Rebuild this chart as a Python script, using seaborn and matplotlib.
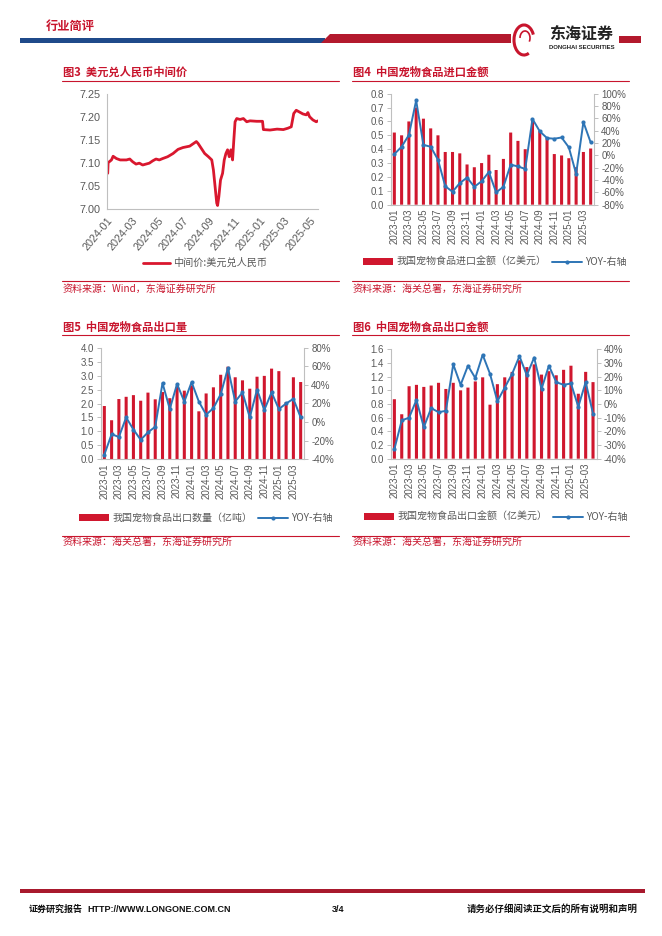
import numpy as np
import pandas as pd
import matplotlib
matplotlib.use("Agg")
import matplotlib.pyplot as plt
import seaborn as sns
from matplotlib.patches import Rectangle, Polygon, Patch, Arc
from matplotlib.lines import Line2D
import matplotlib.dates as mdates
from matplotlib.ticker import FuncFormatter

# ---------------- data ----------------
fx_dates = ["2024-01-02", "2024-01-03", "2024-01-11", "2024-01-15", "2024-01-23", "2024-02-01",
            "2024-02-16", "2024-02-24", "2024-03-02", "2024-03-10", "2024-03-18", "2024-03-26",
            "2024-04-11", "2024-04-19", "2024-04-27", "2024-05-05", "2024-05-13", "2024-05-25",
            "2024-06-07", "2024-06-19", "2024-07-01", "2024-07-17", "2024-07-25", "2024-08-02",
            "2024-08-06", "2024-08-14", "2024-08-22", "2024-08-31", "2024-09-08", "2024-09-12",
            "2024-09-16", "2024-09-20", "2024-09-22", "2024-09-25", "2024-09-29", "2024-10-04",
            "2024-10-08", "2024-10-12", "2024-10-16", "2024-10-20", "2024-10-24", "2024-10-28",
            "2024-10-31", "2024-11-03", "2024-11-07", "2024-11-15", "2024-11-23", "2024-12-01",
            "2024-12-09", "2024-12-25", "2025-01-08", "2025-01-10", "2025-01-26", "2025-02-12",
            "2025-02-27", "2025-03-10", "2025-03-18", "2025-03-24", "2025-03-30", "2025-04-07",
            "2025-04-15", "2025-04-23", "2025-04-27", "2025-05-01", "2025-05-09", "2025-05-17",
            "2025-05-21"]
fx_values = [7.077, 7.100, 7.106, 7.114, 7.109, 7.106, 7.106, 7.108, 7.102, 7.097, 7.099, 7.095,
             7.099, 7.104, 7.108, 7.106, 7.109, 7.113, 7.120, 7.129, 7.133, 7.136, 7.141, 7.146,
             7.142, 7.131, 7.120, 7.113, 7.106, 7.084, 7.048, 7.012, 7.007, 7.026, 7.062, 7.077,
             7.106, 7.120, 7.128, 7.113, 7.128, 7.106, 7.149, 7.189, 7.196, 7.194, 7.196, 7.189,
             7.191, 7.190, 7.190, 7.172, 7.171, 7.173, 7.172, 7.175, 7.178, 7.207, 7.214, 7.210,
             7.206, 7.204, 7.209, 7.200, 7.193, 7.189, 7.191]

months = ["2023-01", "2023-02", "2023-03", "2023-04", "2023-05", "2023-06", "2023-07", "2023-08",
          "2023-09", "2023-10", "2023-11", "2023-12", "2024-01", "2024-02", "2024-03", "2024-04",
          "2024-05", "2024-06", "2024-07", "2024-08", "2024-09", "2024-10", "2024-11", "2024-12",
          "2025-01", "2025-02", "2025-03", "2025-04"]
month_tick_labels = months[::2]

import_value = [0.52, 0.50, 0.60, 0.70, 0.62, 0.55, 0.50, 0.38, 0.38, 0.37, 0.29, 0.27,
                0.30, 0.36, 0.25, 0.33, 0.52, 0.46, 0.40, 0.61, 0.53, 0.48, 0.365, 0.355,
                0.335, 0.27, 0.38, 0.405]
import_yoy = [2, 14, 33, 89, 17, 14, -7, -50, -59, -45, -36, -51,
              -42, -27, -60, -51, -15, -18, -22, 59, 39, 28, 27, 29,
              13, -30, 54, 21]

export_volume = [1.91, 1.40, 2.16, 2.24, 2.30, 2.10, 2.39, 2.15, 2.41, 2.19, 2.60, 2.46,
                 2.65, 1.72, 2.36, 2.58, 3.03, 3.32, 2.94, 2.83, 2.53, 2.96, 2.99, 3.25,
                 3.16, 2.05, 2.94, 2.77]
export_volume_yoy = [-35, -13, -16, 5, -8, -19, -11, -5, 42, 14, 41, 22,
                     43, 22, 8, 15, 30, 58, 22, 32, 5, 35, 13, 32,
                     14, 20, 25, 5]

export_value = [0.87, 0.65, 1.06, 1.08, 1.05, 1.07, 1.11, 1.02, 1.11, 1.00, 1.04, 1.13,
                1.19, 0.79, 1.09, 1.19, 1.27, 1.44, 1.34, 1.38, 1.23, 1.28, 1.22, 1.30,
                1.36, 0.95, 1.27, 1.12]
export_value_yoy = [-33, -12, -10, 3, -17, -3, -6, -5, 29, 14, 28, 19,
                    36, 22, 2, 12, 22, 35, 21, 34, 11, 28, 16, 14,
                    15, -2, 16, -7]

# ---------------- style ----------------
sns.set_theme(style="white")
plt.rcParams['font.family'] = ['Liberation Sans', 'Noto Sans CJK SC', 'DejaVu Sans']
plt.rcParams['axes.unicode_minus'] = False

W, H = 662, 936
RED = "#C8152D"
BAR = "#D0172E"
LINE = "#2E75B6"
SPINE = "#BFBFBF"
TXT = "#595959"
CJK = ['Noto Sans CJK SC', 'DejaVu Sans']

fig = plt.figure(figsize=(W / 100, H / 100), dpi=100)
fig.patch.set_facecolor("white")

ov = fig.add_axes([0, 0, 1, 1])
ov.set_xlim(0, W)
ov.set_ylim(H, 0)
ov.axis('off')


def rect(l, t, r, b):
    return [l / W, 1 - b / H, (r - l) / W, (b - t) / H]


def style_axes(ax, size=6.8):
    for s in ['top', 'right']:
        ax.spines[s].set_visible(False)
    for s in ['left', 'bottom']:
        ax.spines[s].set_color(SPINE)
        ax.spines[s].set_linewidth(0.8)
    ax.tick_params(axis='both', which='both', color=SPINE, labelcolor=TXT,
                   labelsize=size, length=3, width=0.7, direction='out', pad=2)
    ax.set_xlabel('')
    ax.set_ylabel('')


# ---------------- header ----------------
ov.text(46, 26, "行业简评", color=RED, fontsize=8.8, fontweight='bold',
        family=CJK, va='center', ha='left')
ov.add_patch(Rectangle((20, 38), 305, 5, color="#1F4A8A", lw=0))
ov.add_patch(Polygon([(321, 43), (330, 34), (511, 34), (511, 43)], closed=True,
                     color="#B3192D", lw=0))
ov.add_patch(Rectangle((619, 36), 22, 7, color="#B3192D", lw=0))
ov.add_patch(Arc((524, 40), 20, 30, theta1=70, theta2=330, color="#C8152D", lw=2.2))
ov.add_patch(Arc((525, 38), 10, 14, theta1=180, theta2=40, color="#C8152D", lw=1.2))
ov.text(581, 34, "东海证券", color="#222222", fontsize=11.5, fontweight='bold',
        family=CJK, va='center', ha='center')
ov.text(582, 47.5, "DONGHAI SECURITIES", color="#222222", fontsize=4.3,
        fontweight='bold', va='center', ha='center')

# ---------------- footer ----------------
ov.add_patch(Rectangle((20, 889), 625, 4, color="#A8192D", lw=0))
ov.text(29, 909, "证券研究报告", fontsize=6.5, fontweight='bold', family=CJK,
        va='center', ha='left', color="#111111")
ov.text(87, 909, "HTTP://WWW.LONGONE.COM.CN", fontsize=6.5, fontweight='bold',
        va='center', ha='left', color="#111111")
ov.text(332, 909, "3/4", fontsize=6.5, fontweight='bold', va='center', ha='left',
        color="#111111")
ov.text(638, 909, "请务必仔细阅读正文后的所有说明和声明", fontsize=6.8, fontweight='bold',
        family=CJK, va='center', ha='right', color="#111111")


# ---------------- panel frames ----------------
def frame(x0, x1, title, title_y, line_top, line_bot, src, src_y):
    ov.text(x0, title_y, title, color=RED, fontsize=8.1, fontweight='bold',
            family=CJK, va='center', ha='left')
    ov.plot([x0 - 1, x1], [line_top, line_top], color=RED, lw=0.8)
    ov.plot([x0 - 1, x1], [line_bot, line_bot], color=RED, lw=0.8)
    ov.text(x0, src_y, src, color=RED, fontsize=7.2, family=CJK, va='center', ha='left')


frame(63, 339, "图3  美元兑人民币中间价", 72, 81, 281, "资料来源：Wind，东海证券研究所", 289)
frame(353, 629, "图4  中国宠物食品进口金额", 72, 81, 281, "资料来源：海关总署，东海证券研究所", 289)
frame(63, 339, "图5  中国宠物食品出口量", 327, 335, 536, "资料来源：海关总署，东海证券研究所", 542)
frame(353, 629, "图6  中国宠物食品出口金额", 327, 335, 536, "资料来源：海关总署，东海证券研究所", 542)

# ---------------- chart 3: FX line ----------------
ax3 = fig.add_axes(rect(107.3, 93.7, 318.3, 208.7))
fx_df = pd.DataFrame({"date": pd.to_datetime(fx_dates), "value": fx_values})
sns.lineplot(data=fx_df, x="date", y="value", ax=ax3, color="#D9172E", lw=2.0)
ax3.set_xlim(pd.Timestamp("2024-01-01"), pd.Timestamp("2025-05-22"))
ax3.set_ylim(7.00, 7.25)
ax3.set_yticks([7.00, 7.05, 7.10, 7.15, 7.20, 7.25])
ax3.yaxis.set_major_formatter(FuncFormatter(lambda v, p: f"{v:.2f}"))
ax3.xaxis.set_major_locator(mdates.MonthLocator(bymonth=[1, 3, 5, 7, 9, 11]))
ax3.xaxis.set_major_formatter(mdates.DateFormatter("%Y-%m"))
style_axes(ax3, size=7.8)
for lab in ax3.get_xticklabels():
    lab.set_rotation(50)
    lab.set_ha('right')
    lab.set_va('top')
    lab.set_rotation_mode('anchor')
ax3.legend(handles=[Line2D([0], [0], color="#D9172E", lw=2.0)],
           labels=["中间价:美元兑人民币"], loc='center', bbox_to_anchor=(205, 263),
           bbox_transform=ov.transData, frameon=False, handlelength=2.6,
           handletextpad=0.3, prop={'family': CJK, 'size': 7.3}, labelcolor=TXT)


# ---------------- bar + yoy charts ----------------
def bar_chart(r, vals, yoy, ylim, yticks, yfmt, y2lim, y2ticks, bar_label, leg_xy):
    ax = fig.add_axes(r)
    df = pd.DataFrame({"month": months, "value": vals})
    sns.barplot(data=df, x="month", y="value", ax=ax, color=BAR, width=0.42,
                saturation=1)
    for p in ax.patches:
        p.set_snap(False)
        p.set_linewidth(0)
    ax.set_xlim(-0.5, 27.5)
    ax.set_ylim(*ylim)
    ax.set_yticks(yticks)
    ax.yaxis.set_major_formatter(FuncFormatter(lambda v, p: yfmt.format(v)))
    ax.set_xticks(range(0, 28, 2))
    ax.set_xticklabels(month_tick_labels)
    ax.set_xticks(np.arange(-0.5, 28, 2), minor=True)
    style_axes(ax, size=7.0)
    ax.tick_params(axis='x', which='major', length=0, pad=3)
    for lab in ax.get_xticklabels():
        lab.set_rotation(90)
    ax2 = ax.twinx()
    sns.lineplot(x=np.arange(28), y=np.array(yoy, dtype=float), ax=ax2, color=LINE,
                 lw=1.4, marker='o', markersize=3.0, markeredgewidth=0)
    ax2.set_ylim(*y2lim)
    ax2.set_yticks(y2ticks)
    ax2.yaxis.set_major_formatter(FuncFormatter(lambda v, p: f"{v:.0f}%"))
    ax2.set_xlim(-0.5, 27.5)
    for s in ['top', 'left', 'bottom']:
        ax2.spines[s].set_visible(False)
    ax2.spines['right'].set_color(SPINE)
    ax2.spines['right'].set_linewidth(0.8)
    ax2.tick_params(axis='y', color=SPINE, labelcolor=TXT, labelsize=7.0, length=3,
                    width=0.7, direction='out', pad=2)
    ax2.set_ylabel('')
    ax2.set_xlabel('')
    handles = [Patch(facecolor=BAR, edgecolor='none'),
               Line2D([0], [0], color=LINE, lw=1.4, marker='o', markersize=3.0,
                      markeredgewidth=0)]
    ax2.legend(handles=handles, labels=[bar_label, "YOY-右轴"], loc='center',
               bbox_to_anchor=leg_xy, bbox_transform=ov.transData, frameon=False,
               ncol=2, handlelength=3.0, handleheight=0.6, columnspacing=0.6,
               handletextpad=0.3, prop={'family': CJK, 'size': 7.2}, labelcolor=TXT)
    return ax, ax2


bar_chart(rect(390.7, 93.7, 594.3, 204.7), import_value, import_yoy,
          (0, 0.8), np.arange(0, 0.81, 0.1), "{:.1f}",
          (-80, 100), np.arange(-80, 101, 20),
          "我国宠物食品进口金额（亿美元）", (495, 262))

bar_chart(rect(100.7, 347.7, 304.3, 459.3), export_volume, export_volume_yoy,
          (0, 4.0), np.arange(0, 4.01, 0.5), "{:.1f}",
          (-40, 80), np.arange(-40, 81, 20),
          "我国宠物食品出口数量（亿吨）", (206, 518))

bar_chart(rect(390.7, 349.3, 596.7, 458.7), export_value, export_value_yoy,
          (0, 1.6), np.arange(0, 1.61, 0.2), "{:.1f}",
          (-40, 40), np.arange(-40, 41, 10),
          "我国宠物食品出口金额（亿美元）", (496, 517))

fig.savefig("out.png", dpi=100, facecolor="white")
